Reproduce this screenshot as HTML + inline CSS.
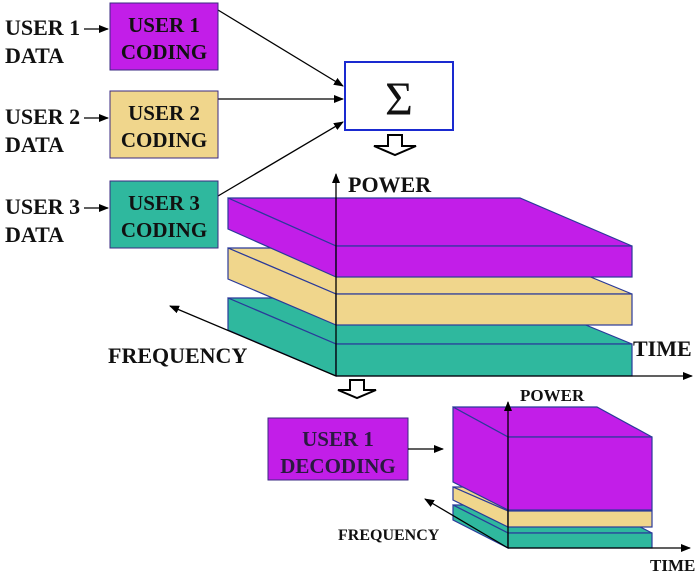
<!DOCTYPE html>
<html><head><meta charset="utf-8"><style>
html,body{margin:0;padding:0;background:#fff;}
svg{display:block;}
text{font-family:"Liberation Serif",serif;font-weight:bold;fill:#111;}
</style></head><body>
<svg width="700" height="575" viewBox="0 0 700 575" xmlns="http://www.w3.org/2000/svg">
<defs>
<marker id="a" markerWidth="10" markerHeight="8" refX="9" refY="4" orient="auto" markerUnits="userSpaceOnUse"><path d="M0,0 L10,4 L0,8 Z" fill="#000"/></marker>
</defs>
<g font-size="22">
<text x="5" y="35">USER 1</text><text x="5" y="63">DATA</text>
<text x="5" y="124">USER 2</text><text x="5" y="152">DATA</text>
<text x="5" y="214">USER 3</text><text x="5" y="242">DATA</text>
</g>
<g stroke="#000" stroke-width="1.3" marker-end="url(#a)">
<line x1="84" y1="29" x2="108" y2="29"/><line x1="84" y1="118" x2="108" y2="118"/><line x1="84" y1="208" x2="108" y2="208"/>
<line x1="218" y1="10" x2="343" y2="86"/><line x1="218" y1="99" x2="343" y2="99"/><line x1="218" y1="196" x2="343" y2="122"/>
</g>
<rect x="110" y="3" width="108" height="67" fill="#c21ee8" stroke="#3a2a80"/>
<rect x="110" y="91" width="108" height="67" fill="#f0d68c" stroke="#3a2a80"/>
<rect x="110" y="181" width="108" height="67" fill="#2fb89e" stroke="#3a2a80"/>
<g font-size="21" text-anchor="middle" style="fill:#2a1a40">
<text x="164" y="32">USER 1</text><text x="164" y="59">CODING</text>
<text x="164" y="120">USER 2</text><text x="164" y="147">CODING</text>
<text x="164" y="210">USER 3</text><text x="164" y="237">CODING</text>
</g>
<rect x="345" y="62" width="108" height="68" fill="#fff" stroke="#1a2ad0" stroke-width="2"/>
<text x="399" y="115" font-size="48" text-anchor="middle" style="font-weight:normal">Σ</text>
<path d="M388,135 H402 V146 H416 L395,155 L374,146 H388 Z" fill="#fff" stroke="#000" stroke-width="2"/>
<g stroke="#2a3a9a" stroke-width="1.2">
<polygon points="228,298 520,298 632,344 336,344" fill="#2fb89e"/>
<polygon points="228,298 336,344 336,376 228,330" fill="#2fb89e"/>
<rect x="336" y="344" width="296" height="32" fill="#2fb89e"/>
<polygon points="228,248 520,248 632,294 336,294" fill="#f0d68c"/>
<polygon points="228,248 336,294 336,325 228,279" fill="#f0d68c"/>
<rect x="336" y="294" width="296" height="31" fill="#f0d68c"/>
<polygon points="228,198 520,198 632,246 336,246" fill="#c21ee8"/>
<polygon points="228,198 336,246 336,277 228,229" fill="#c21ee8"/>
<rect x="336" y="246" width="296" height="31" fill="#c21ee8"/>
</g>
<g stroke="#000" stroke-width="1.3" marker-end="url(#a)">
<line x1="336" y1="376" x2="336" y2="174"/>
<line x1="336" y1="376" x2="692" y2="376"/>
<line x1="336" y1="376" x2="170" y2="306"/>
</g>
<text x="348" y="192" font-size="22">POWER</text>
<text x="633" y="356" font-size="22">TIME</text>
<text x="108" y="363" font-size="22">FREQUENCY</text>
<path d="M350,380 H364 V390 H376 L357,398 L338,390 H350 Z" fill="#fff" stroke="#000" stroke-width="2"/>
<rect x="268" y="418" width="140" height="62" fill="#c21ee8" stroke="#3a2a80"/>
<text x="338" y="446" font-size="21" text-anchor="middle" style="fill:#2a1a40">USER 1</text>
<text x="338" y="473" font-size="21" text-anchor="middle" style="fill:#2a1a40">DECODING</text>
<line x1="408" y1="449" x2="443" y2="449" stroke="#000" stroke-width="1.3" marker-end="url(#a)"/>
<g stroke="#2a3a9a" stroke-width="1.2">
<polygon points="453,505 597,505 652,533 508,533" fill="#2fb89e"/>
<polygon points="453,505 508,533 508,548 453,520" fill="#2fb89e"/>
<rect x="508" y="533" width="144" height="15" fill="#2fb89e"/>
<polygon points="453,487 597,487 652,511 508,511" fill="#f0d68c"/>
<polygon points="453,487 508,511 508,527 453,500" fill="#f0d68c"/>
<rect x="508" y="511" width="144" height="16" fill="#f0d68c"/>
<polygon points="453,407 597,407 652,437 508,437" fill="#c21ee8"/>
<polygon points="453,407 508,437 508,510 453,482" fill="#c21ee8"/>
<rect x="508" y="437" width="144" height="73" fill="#c21ee8"/>
</g>
<g stroke="#000" stroke-width="1.3" marker-end="url(#a)">
<line x1="508" y1="548" x2="508" y2="402"/>
<line x1="508" y1="548" x2="690" y2="548"/>
<line x1="508" y1="548" x2="425" y2="499"/>
</g>
<text x="520" y="401" font-size="17">POWER</text>
<text x="338" y="540" font-size="16">FREQUENCY</text>
<text x="650" y="571" font-size="17">TIME</text>
</svg>
</body></html>
